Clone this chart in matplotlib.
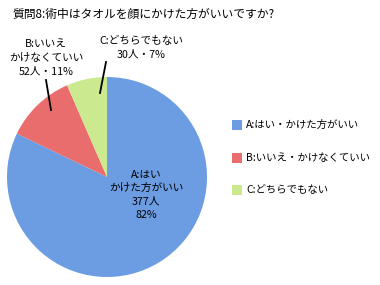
import matplotlib
matplotlib.use("Agg")
import matplotlib.pyplot as plt
from matplotlib.patches import Rectangle

plt.rcParams["font.family"] = ["Noto Sans CJK JP", "DejaVu Sans"]

title = "質問8:術中はタオルを顔にかけた方がいいですか?"
categories = ["A:はい・かけた方がいい", "B:いいえ・かけなくていい", "C:どちらでもない"]
counts = [377, 52, 30]
percents = [82, 11, 7]
colors = ["#6c9de2", "#e96d6d", "#cbe98e"]

W, H = 380, 285
fig = plt.figure(figsize=(W / 100, H / 100), dpi=100)


def px(x, y):
    return x / W, 1 - y / H


# pie: center (107,177), radius 100 px
ax = fig.add_axes([7 / W, (H - 277) / H, 200 / W, 200 / H])
ax.pie(counts, colors=colors, startangle=90, counterclock=False,
       wedgeprops=dict(linewidth=0))
ax.set_xlim(-1, 1)
ax.set_ylim(-1, 1)
ax.set_aspect("equal")
ax.axis("off")

fig.text(*px(12, 14), title, fontsize=8.5, ha="left", va="center")

lab = dict(fontsize=7.7, ha="center", va="center", linespacing=1.45)
fig.text(*px(46, 58), "B:いいえ\nかけなくていい\n%d人・%d%%" % (counts[1], percents[1]), **lab)
fig.text(*px(141, 48), "C:どちらでもない\n%d人・%d%%" % (counts[2], percents[2]), **lab)
fig.text(*px(146, 195), "A:はい\nかけた方がいい\n%d人\n%d%%" % (counts[0], percents[0]), **lab)

# leader lines
for (x0, y0), (x1, y1) in [((46, 80), (51, 110)), ((106, 62), (100, 93))]:
    fig.add_artist(plt.Line2D([x0 / W, x1 / W], [1 - y0 / H, 1 - y1 / H],
                              color="black", lw=1.3, transform=fig.transFigure))

# legend
for i, (name, c) in enumerate(zip(categories, colors)):
    y = 125 + i * 32.5
    fig.add_artist(Rectangle(px(232, y + 5), 10 / W, 10 / H, facecolor=c,
                             edgecolor="none", transform=fig.transFigure))
    fig.text(*px(246, y), name, fontsize=7.5, ha="left", va="center")

fig.savefig("out.png", dpi=100)
